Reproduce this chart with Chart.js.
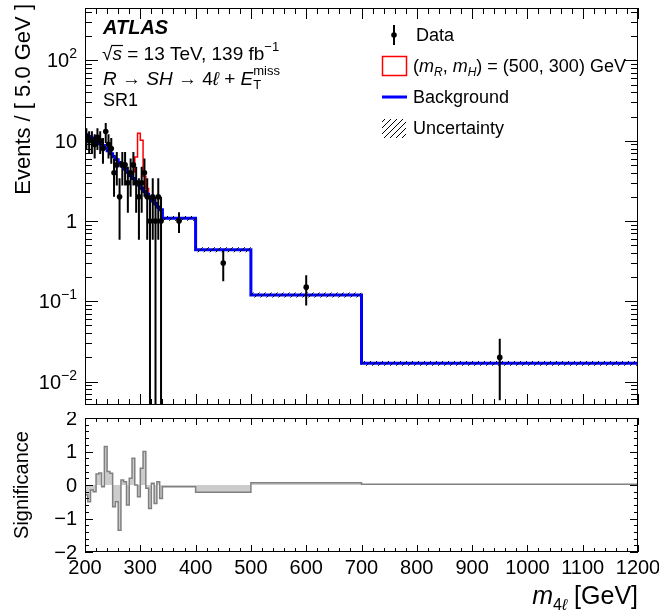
<!DOCTYPE html>
<html>
<head>
<meta charset="utf-8">
<script src="https://cdn.jsdelivr.net/npm/chart.js@4.4.1/dist/chart.umd.min.js"></script>
<style>
  html, body { margin: 0; padding: 0; background: #fff; }
  #wrap { position: relative; width: 659px; height: 613px; }
  #main { position: absolute; left: 0; top: 0; }
  #sig { position: absolute; left: 0; top: 412px; }
</style>
</head>
<body>
<div id="wrap">
  <canvas id="main" width="659" height="412"></canvas>
  <canvas id="sig" width="659" height="201"></canvas>
</div>
<script>
// m4l binning (GeV): 5 GeV bins up to 340, then wide bins
const binEdges = [200, 205, 210, 215, 220, 225, 230, 235, 240, 245, 250, 255, 260, 265, 270, 275,
  280, 285, 290, 295, 300, 305, 310, 315, 320, 325, 330, 335, 340, 400, 500, 700, 1200];

// expected background, events per 5 GeV
const background = [11.9, 11.3, 10.8, 10.2, 9.7, 9.2, 8.7, 8.1, 7.5, 6.9, 6.3, 5.8, 5.3, 4.85, 4.45, 4.05,
  3.7, 3.38, 3.08, 2.82, 2.57, 2.35, 2.15, 1.96, 1.8, 1.65, 1.5, 1.38, 1.08, 0.44, 0.12, 0.0169];

// relative background uncertainty per bin
const bkgRelUnc = [0.06, 0.06, 0.06, 0.06, 0.06, 0.06, 0.06, 0.06, 0.06, 0.06, 0.06, 0.06, 0.06, 0.06, 0.06, 0.06,
  0.06, 0.06, 0.06, 0.06, 0.06, 0.06, 0.06, 0.06, 0.06, 0.06, 0.06, 0.06, 0.07, 0.07, 0.07, 0.07];

// signal (mR, mH) = (500, 300) GeV, events per 5 GeV, stacked on the background
const signal = [0, 0, 0, 0, 0, 0, 0, 0, 0, 0, 0, 0, 0, 0, 0, 0,
  0, 0.7, 3.2, 9.6, 7.6, 1.25, 0.4, 0, 0, 0, 0, 0, 0, 0, 0, 0];

// observed events in each bin (raw counts)
const dataCounts = [11, 10, 10, 9, 11, 10, 8, 13, 9, 8, 4, 5, 2, 5, 5, 3,
  4, 5, 3, 2, 3, 4, 2, 1, 2, 1, 2, 1, 12, 6, 6, 2];

// significance of data w.r.t. background
const significance = [-0.3, -0.5, -0.15, -0.2, 0.33, 0.36, -0.05, 1.15, 0.4, 0.35, -0.65, -0.5, -1.35, 0.15, 0.1, -0.6,
  0.2, 0.8, 0.0, -0.35, 0.5, 1.0, -0.1, -0.7, 0.05, -0.55, 0.1, -0.4, -0.05, -0.22, 0.07, 0.02];

const xTicksMajor = [200, 300, 400, 500, 600, 700, 800, 900, 1000, 1100, 1200];
const yDecades = [-2, -1, 0, 1, 2];
const sigTicks = [-2, -1, 0, 1, 2];
const sigTickLabels = ['\u22122', '\u22121', '0', '1', '2'];

const FONT = '"Liberation Sans", Arial, Helvetica, sans-serif';
const fnt = (size, style) => (style ? style + ' ' : '') + size + 'px ' + FONT;

// ---- helpers ----
const nBins = binEdges.length - 1;
const perFive = i => (binEdges[i + 1] - binEdges[i]) / 5;
function stepPoints(vals) {
  const pts = vals.map((v, i) => ({ x: binEdges[i], y: v }));
  pts.push({ x: binEdges[nBins], y: vals[nBins - 1] });
  return pts;
}
const bkgUp = background.map((b, i) => b * (1 + bkgRelUnc[i]));
const bkgDn = background.map((b, i) => b * (1 - bkgRelUnc[i]));
const sigPlusBkg = background.map((b, i) => b + signal[i]);
const dataPoints = dataCounts.map((n, i) => ({
  x: 0.5 * (binEdges[i] + binEdges[i + 1]),
  y: n / perFive(i),
  err: Math.sqrt(n) / perFive(i)
}));

function hatchPattern() {
  const c = document.createElement('canvas');
  c.width = 6; c.height = 6;
  const g = c.getContext('2d');
  g.strokeStyle = '#000'; g.lineWidth = 1;
  g.beginPath();
  g.moveTo(0, 6); g.lineTo(6, 0);
  g.moveTo(-1, 1); g.lineTo(1, -1);
  g.moveTo(5, 7); g.lineTo(7, 5);
  g.stroke();
  return g.createPattern(c, 'repeat');
}
const hatch = hatchPattern();

// draw a sequence of text runs; items: {t, font, dy} or {stack:[...]}
function drawRuns(ctx, x, y, parts) {
  let cx = x;
  for (const p of parts) {
    if (p.stack) {
      let w = 0;
      for (const s of p.stack) {
        ctx.font = s.font;
        ctx.fillText(s.t, cx, y + (s.dy || 0));
        w = Math.max(w, ctx.measureText(s.t).width);
      }
      cx += w;
      continue;
    }
    ctx.font = p.font;
    ctx.fillText(p.t, cx, y + (p.dy || 0));
    cx += ctx.measureText(p.t).width;
  }
  return cx;
}
function runsWidth(ctx, parts) {
  let w = 0;
  for (const p of parts) {
    if (p.stack) {
      let m = 0;
      for (const s of p.stack) { ctx.font = s.font; m = Math.max(m, ctx.measureText(s.t).width); }
      w += m;
    } else { ctx.font = p.font; w += ctx.measureText(p.t).width; }
  }
  return w;
}

function tick(ctx, x1, y1, x2, y2) { ctx.moveTo(x1, y1); ctx.lineTo(x2, y2); }

function drawXTicks(ctx, a, xs, majLen, minLen) {
  ctx.beginPath();
  for (let v = 200; v <= 1200; v += 20) {
    const px = Math.round(xs.getPixelForValue(v)) + 0.5;
    const len = (v % 100 === 0) ? majLen : minLen;
    tick(ctx, px, a.bottom, px, a.bottom - len);
    tick(ctx, px, a.top, px, a.top + len);
  }
  ctx.stroke();
}

// ---- main panel ----
const mainPlugin = {
  id: 'mainDecor',
  afterDatasetsDraw(chart) {
    const { ctx, chartArea: a, scales } = chart;
    const ys = scales.y;
    // data error bars
    ctx.save();
    ctx.beginPath();
    ctx.rect(a.left, a.top, a.right - a.left, a.bottom - a.top);
    ctx.clip();
    ctx.strokeStyle = '#000'; ctx.lineWidth = 2;
    ctx.beginPath();
    for (const p of dataPoints) {
      const px = scales.x.getPixelForValue(p.x);
      const hi = ys.getPixelForValue(p.y + p.err);
      const lo = (p.y - p.err) > 0 ? ys.getPixelForValue(p.y - p.err) : a.bottom;
      ctx.moveTo(px, hi); ctx.lineTo(px, lo);
    }
    ctx.stroke();
    ctx.restore();
  },
  afterDraw(chart) {
    const { ctx, chartArea: a, scales } = chart;
    const xs = scales.x, ys = scales.y;
    ctx.save();
    ctx.strokeStyle = '#000'; ctx.lineWidth = 1;
    ctx.strokeRect(a.left + 0.5, a.top + 0.5, a.right - a.left - 1, a.bottom - a.top - 1);
    drawXTicks(ctx, a, xs, 11, 6);
    // log ticks on left and right
    ctx.beginPath();
    for (let d = -3; d <= 3; d++) {
      for (let m = 1; m <= 9; m++) {
        const v = m * Math.pow(10, d);
        if (v < ys.min || v > ys.max) continue;
        const py = Math.round(ys.getPixelForValue(v)) + 0.5;
        const len = m === 1 ? 13 : 7;
        tick(ctx, a.left, py, a.left + len, py);
        tick(ctx, a.right, py, a.right - len, py);
      }
    }
    ctx.stroke();

    // y tick labels
    ctx.fillStyle = '#000';
    ctx.textBaseline = 'alphabetic';
    ctx.textAlign = 'left';
    const labRight = 77;
    for (const d of yDecades) {
      const py = ys.getPixelForValue(Math.pow(10, d));
      let parts;
      if (d === 0) parts = [{ t: '1', font: fnt(20) }];
      else if (d === 1) parts = [{ t: '10', font: fnt(20) }];
      else parts = [{ t: '10', font: fnt(20) }, { t: (d < 0 ? '\u2212' : '') + Math.abs(d), font: fnt(14), dy: -9 }];
      const w = runsWidth(ctx, parts);
      drawRuns(ctx, labRight - w, py + 7, parts);
    }

    // y axis title
    ctx.save();
    ctx.translate(30, a.top - 4);
    ctx.rotate(-Math.PI / 2);
    ctx.font = fnt(22);
    ctx.textAlign = 'right';
    ctx.fillText('Events / [ 5.0 GeV ]', 0, 0);
    ctx.restore();

    // ATLAS label block
    ctx.textAlign = 'left';
    ctx.font = fnt(20, 'italic bold');
    ctx.fillText('ATLAS', 103, 34);
    // sqrt(s) line
    ctx.font = fnt(19);
    ctx.fillText('\u221A', 102, 60);
    const sx = 102 + ctx.measureText('\u221A').width;
    ctx.font = fnt(19, 'italic');
    const sw = ctx.measureText('s').width;
    ctx.fillText('s', sx, 60);
    ctx.beginPath(); ctx.lineWidth = 1.2;
    ctx.moveTo(sx - 1, 45.5); ctx.lineTo(sx + sw + 1, 45.5); ctx.stroke();
    drawRuns(ctx, sx + sw, 60, [
      { t: ' = 13 TeV, 139 fb', font: fnt(19) },
      { t: '\u22121', font: fnt(13), dy: -9 }
    ]);
    drawRuns(ctx, 103, 85, [
      { t: 'R', font: fnt(19, 'italic') },
      { t: ' \u2192 ', font: fnt(19) },
      { t: 'SH', font: fnt(19, 'italic') },
      { t: ' \u2192 4', font: fnt(19) },
      { t: '\u2113', font: fnt(19, 'italic') },
      { t: ' + ', font: fnt(19) },
      { t: 'E', font: fnt(19, 'italic') },
      { stack: [{ t: 'T', font: fnt(13), dy: 4 }, { t: 'miss', font: fnt(13), dy: -10 }] }
    ]);
    ctx.font = fnt(18);
    ctx.fillText('SR1', 103, 106);

    // legend
    const lx = 413;
    ctx.font = fnt(18);
    // data
    ctx.strokeStyle = '#000'; ctx.lineWidth = 2;
    ctx.beginPath(); ctx.moveTo(394, 25); ctx.lineTo(394, 45); ctx.stroke();
    ctx.beginPath(); ctx.arc(394, 35, 2.8, 0, 2 * Math.PI); ctx.fill();
    ctx.fillText('Data', 416, 41);
    // signal
    ctx.strokeStyle = '#ff0000'; ctx.lineWidth = 1.5;
    ctx.strokeRect(382.5, 56.5, 24, 19);
    drawRuns(ctx, lx, 72, [
      { t: '(', font: fnt(18) },
      { t: 'm', font: fnt(18, 'italic') },
      { t: 'R', font: fnt(12, 'italic'), dy: 4 },
      { t: ', ', font: fnt(18) },
      { t: 'm', font: fnt(18, 'italic') },
      { t: 'H', font: fnt(12, 'italic'), dy: 4 },
      { t: ') = (500, 300) GeV', font: fnt(18) }
    ]);
    // background
    ctx.strokeStyle = '#0000ff'; ctx.lineWidth = 3;
    ctx.beginPath(); ctx.moveTo(382, 97); ctx.lineTo(407, 97); ctx.stroke();
    ctx.font = fnt(18);
    ctx.fillText('Background', lx, 103);
    // uncertainty
    ctx.fillStyle = hatch;
    ctx.fillRect(382, 119, 24, 19);
    ctx.fillStyle = '#000';
    ctx.fillText('Uncertainty', lx, 134);
    ctx.restore();
  }
};

new Chart(document.getElementById('main'), {
  type: 'line',
  data: {
    datasets: [
      {
        label: 'Data', data: dataPoints, showLine: false, order: 0,
        pointRadius: 2.8, pointBackgroundColor: '#000', pointBorderColor: '#000', pointBorderWidth: 0
      },
      {
        label: 'UncUp', data: stepPoints(bkgUp), stepped: true, order: 1,
        borderWidth: 0, pointRadius: 0, fill: '+1', backgroundColor: hatch, borderColor: 'rgba(0,0,0,0)'
      },
      {
        label: 'UncDn', data: stepPoints(bkgDn), stepped: true, order: 1,
        borderWidth: 0, pointRadius: 0, fill: false, borderColor: 'rgba(0,0,0,0)'
      },
      {
        label: 'Background', data: stepPoints(background), stepped: true, order: 2,
        borderColor: '#0000ff', borderWidth: 3, pointRadius: 0, fill: false
      },
      {
        label: 'Signal', data: stepPoints(sigPlusBkg), stepped: true, order: 3,
        borderColor: '#ff0000', borderWidth: 1.5, pointRadius: 0, fill: false
      }
    ]
  },
  options: {
    responsive: false, animation: false, devicePixelRatio: 1,
    layout: { padding: { left: 85, right: 21, top: 8, bottom: 7 } },
    plugins: { legend: { display: false }, tooltip: { enabled: false } },
    scales: {
      x: { type: 'linear', min: 200, max: 1200, display: false },
      y: { type: 'logarithmic', min: 0.00511, max: 450, display: false }
    }
  },
  plugins: [mainPlugin]
});

// ---- significance panel ----
const sigPlugin = {
  id: 'sigDecor',
  afterDraw(chart) {
    const { ctx, chartArea: a, scales } = chart;
    const xs = scales.x, ys = scales.y;
    ctx.save();
    ctx.strokeStyle = '#000'; ctx.lineWidth = 1;
    ctx.strokeRect(a.left + 0.5, a.top + 0.5, a.right - a.left - 1, a.bottom - a.top - 1);
    drawXTicks(ctx, a, xs, 7, 4);
    ctx.beginPath();
    for (let k = -20; k <= 20; k++) {
      const v = k / 10;
      if (k % 2 !== 0) continue;
      const py = Math.round(ys.getPixelForValue(v)) + 0.5;
      const len = (k % 10 === 0) ? 8 : 4;
      tick(ctx, a.left, py, a.left + len, py);
      tick(ctx, a.right, py, a.right - len, py);
    }
    ctx.stroke();

    ctx.fillStyle = '#000';
    ctx.font = fnt(20);
    ctx.textAlign = 'right';
    ctx.textBaseline = 'middle';
    sigTicks.forEach((v, i) => ctx.fillText(sigTickLabels[i], 77, ys.getPixelForValue(v) + 1));
    ctx.textAlign = 'center';
    xTicksMajor.forEach(v => ctx.fillText(String(v), xs.getPixelForValue(v), a.bottom + 16));

    // axis titles
    ctx.save();
    ctx.translate(28, (a.top + a.bottom) / 2);
    ctx.rotate(-Math.PI / 2);
    ctx.font = fnt(20);
    ctx.textAlign = 'center';
    ctx.textBaseline = 'alphabetic';
    ctx.fillText('Significance', 0, 0);
    ctx.restore();

    ctx.textAlign = 'left';
    ctx.textBaseline = 'alphabetic';
    const parts = [
      { t: 'm', font: fnt(25, 'italic') },
      { t: '4', font: fnt(16), dy: 6 },
      { t: '\u2113', font: fnt(16, 'italic'), dy: 6 },
      { t: ' [GeV]', font: fnt(25) }
    ];
    const w = runsWidth(ctx, parts);
    drawRuns(ctx, a.right - w, 192, parts);
    ctx.restore();
  }
};

new Chart(document.getElementById('sig'), {
  type: 'line',
  data: {
    datasets: [{
      label: 'Significance', data: stepPoints(significance), stepped: true,
      borderColor: '#808080', borderWidth: 1.5, pointRadius: 0,
      fill: 'origin', backgroundColor: '#cccccc'
    }]
  },
  options: {
    responsive: false, animation: false, devicePixelRatio: 1,
    layout: { padding: { left: 85, right: 21, top: 6, bottom: 61 } },
    plugins: { legend: { display: false }, tooltip: { enabled: false } },
    scales: {
      x: { type: 'linear', min: 200, max: 1200, display: false },
      y: { type: 'linear', min: -2, max: 2, display: false }
    }
  },
  plugins: [sigPlugin]
});
</script>
</body>
</html>
